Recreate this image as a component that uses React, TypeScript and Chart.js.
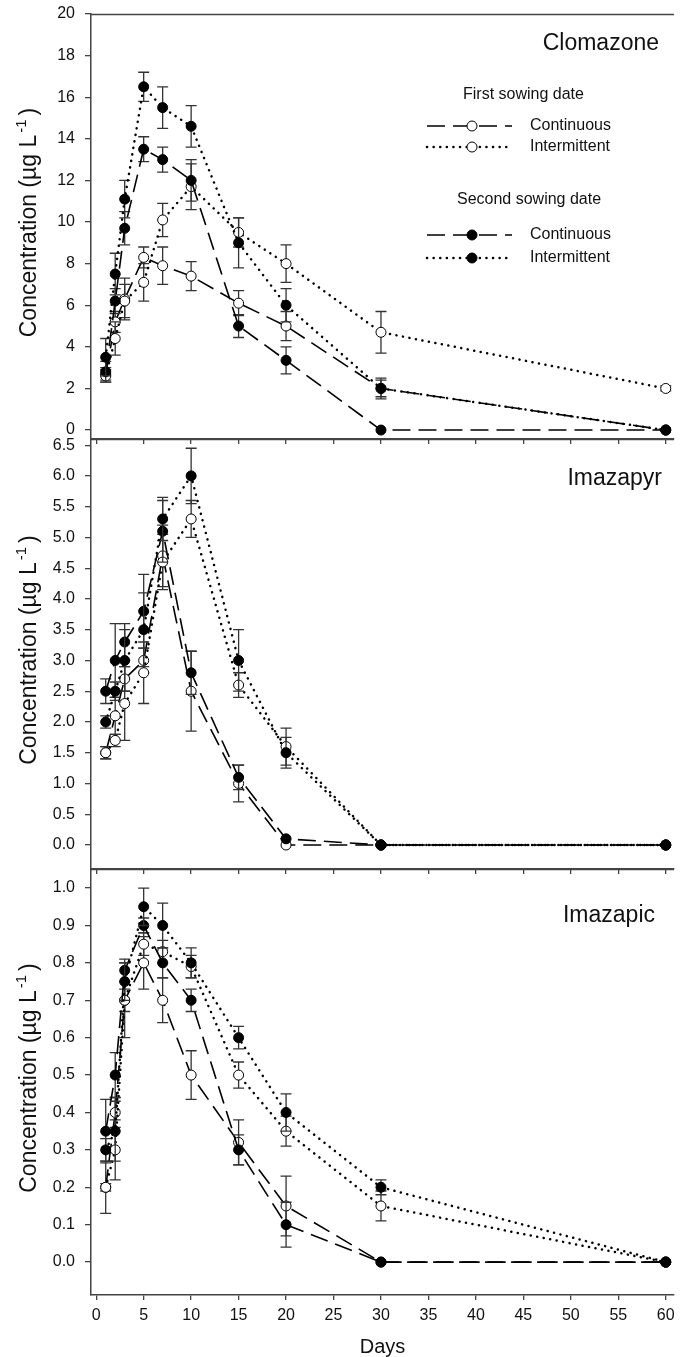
import React, { useEffect, useRef } from "react";
import { Chart, registerables } from "chart.js";

Chart.register(...registerables);

const FONT = "'Liberation Sans', Arial, Helvetica, sans-serif";

// ---------- data ----------
const days = [1, 2, 3, 5, 7, 10, 15, 20, 30, 60];
const xTicks = [0, 5, 10, 15, 20, 25, 30, 35, 40, 45, 50, 55, 60];

const seriesNames = ["Continuous", "Intermittent"];
const legendHeadings = ["First sowing date", "Second sowing date"];
const panelTitles = ["Clomazone", "Imazapyr", "Imazapic"];
const xTitle = "Days";

// Clomazone
const cloTicks = [0, 2, 4, 6, 8, 10, 12, 14, 16, 18, 20];
const cloFirstCont = [2.7, 5.2, 6.3, 8.3, 7.9, 7.4, 6.1, 5.0, 2.0, 0];
const cloFirstContErr = [0.3, 0.5, 1.0, 0.5, 0.9, 0.7, 0.6, 0.7, 0.4, 0];
const cloFirstInt = [2.6, 4.4, 6.2, 7.1, 10.1, 11.7, 9.5, 8.0, 4.7, 2.0];
const cloFirstIntErr = [0.3, 0.8, 0.8, 0.9, 0.8, 1.1, 0.7, 0.9, 1.0, 0.12];
const cloSecondCont = [2.8, 6.2, 9.7, 13.5, 13.0, 12.0, 5.0, 3.35, 0, 0];
const cloSecondContErr = [0.5, 0.6, 0.8, 0.6, 0.6, 1.0, 0.55, 0.65, 0, 0];
const cloSecondInt = [3.5, 7.5, 11.1, 16.5, 15.5, 14.6, 9.0, 6.0, 2.0, 0];
const cloSecondIntErr = [0.9, 1.0, 0.9, 0.7, 1.0, 1.0, 1.2, 0.8, 0.5, 0];

// Imazapyr
const pyrTicks = [0, 0.5, 1, 1.5, 2, 2.5, 3, 3.5, 4, 4.5, 5, 5.5, 6, 6.5];
const pyrFirstCont = [1.5, 2.1, 2.7, 3.0, 4.7, 2.5, 1.0, 0.0, 0, 0];
const pyrFirstContErr = [0.1, 0.3, 0.2, 0.2, 0.5, 0.65, 0.3, 0, 0, 0];
const pyrFirstInt = [1.5, 1.7, 2.3, 2.8, 4.6, 5.3, 2.6, 1.6, 0, 0];
const pyrFirstIntErr = [0.1, 0.1, 0.6, 0.5, 0.45, 0.3, 0.2, 0.3, 0, 0];
const pyrSecondCont = [2.5, 3.0, 3.3, 3.8, 5.1, 2.8, 1.1, 0.1, 0, 0];
const pyrSecondContErr = [0.2, 0.6, 0.3, 0.6, 0.5, 0.35, 0.2, 0, 0, 0];
const pyrSecondInt = [2.0, 2.5, 3.0, 3.5, 5.3, 6.0, 3.0, 1.5, 0, 0];
const pyrSecondIntErr = [0.1, 0.15, 0.5, 0.6, 0.35, 0.45, 0.5, 0.25, 0, 0];

// Imazapic
const picTicks = [0, 0.1, 0.2, 0.3, 0.4, 0.5, 0.6, 0.7, 0.8, 0.9, 1.0];
const picFirstCont = [0.2, 0.4, 0.7, 0.8, 0.7, 0.5, 0.32, 0.15, 0, 0];
const picFirstContErr = [0.07, 0.04, 0.1, 0.07, 0.06, 0.065, 0.06, 0.08, 0, 0];
const picFirstInt = [0.2, 0.3, 0.7, 0.85, 0.83, 0.79, 0.5, 0.35, 0.15, 0];
const picFirstIntErr = [0.01, 0.08, 0.03, 0.03, 0.03, 0.03, 0.035, 0.04, 0.04, 0];
const picSecondCont = [0.35, 0.5, 0.78, 0.9, 0.8, 0.7, 0.3, 0.1, 0, 0];
const picSecondContErr = [0.085, 0.06, 0.03, 0.02, 0.04, 0.03, 0.04, 0.06, 0, 0];
const picSecondInt = [0.3, 0.35, 0.75, 0.95, 0.9, 0.8, 0.6, 0.4, 0.2, 0];
const picSecondIntErr = [0.03, 0.08, 0.05, 0.05, 0.06, 0.04, 0.03, 0.05, 0.02, 0];

// ---------- styles ----------
const DASH = [18, 8];
const DOT = [0.1, 6.5];
const AXIS = "#444";
const TEXT = "#111";

function makeDataset(label: string, values: number[], errors: number[], filled: boolean, dashed: boolean, order: number) {
  return {
    label,
    data: days.map((d, i) => ({ x: d, y: values[i] })),
    errors,
    filled,
    borderColor: "#000",
    borderWidth: dashed ? 1.6 : 2.5,
    borderDash: dashed ? DASH : DOT,
    borderCapStyle: dashed ? "butt" : "round",
    pointRadius: 5,
    pointBorderWidth: 1,
    pointBackgroundColor: filled ? "#000" : "#fff",
    pointBorderColor: "#000",
    tension: 0,
    order,
    clip: false as any,
  };
}

const errorBarPlugin = {
  id: "errorBars",
  beforeDatasetDraw(chart: any, args: any) {
    const ds = chart.data.datasets[args.index];
    const ys = chart.scales.y;
    const ctx = chart.ctx;
    ctx.save();
    ctx.strokeStyle = "#333";
    ctx.lineWidth = 1.3;
    ctx.setLineDash([]);
    args.meta.data.forEach((pt: any, i: number) => {
      const e = ds.errors[i];
      if (!e) return;
      const v = ds.data[i].y;
      const x = pt.x;
      const y1 = ys.getPixelForValue(v + e);
      const y2 = ys.getPixelForValue(v - e);
      const w = 5.5;
      ctx.beginPath();
      ctx.moveTo(x, y1);
      ctx.lineTo(x, y2);
      ctx.moveTo(x - w, y1);
      ctx.lineTo(x + w, y1);
      ctx.moveTo(x - w, y2);
      ctx.lineTo(x + w, y2);
      ctx.stroke();
    });
    ctx.restore();
  },
};

const decorPlugin = {
  id: "decor",
  afterDraw(chart: any, _args: any, opts: any) {
    const { ctx, chartArea } = chart;
    ctx.save();
    // top frame line
    ctx.strokeStyle = AXIS;
    ctx.lineWidth = 1.5;
    ctx.setLineDash([]);
    ctx.beginPath();
    ctx.moveTo(chartArea.left, chartArea.top + 0.5);
    ctx.lineTo(chartArea.right, chartArea.top + 0.5);
    ctx.stroke();

    // panel title
    ctx.fillStyle = TEXT;
    ctx.font = `23px ${FONT}`;
    ctx.textAlign = "right";
    ctx.textBaseline = "middle";
    ctx.fillText(opts.title, opts.titleRight, chartArea.top + opts.titleDy);

    // y-axis title with superscript
    const cy = (chartArea.top + chartArea.bottom) / 2 - 4;
    ctx.translate(36, cy);
    ctx.rotate(-Math.PI / 2);
    ctx.textAlign = "left";
    ctx.textBaseline = "alphabetic";
    const main = "Concentration (µg L";
    const sup = "-1";
    const end = ")";
    const fs = 23;
    ctx.font = `${fs}px ${FONT}`;
    const w1 = ctx.measureText(main).width;
    const w3 = ctx.measureText(end).width;
    ctx.font = `${Math.round(fs * 0.65)}px ${FONT}`;
    const w2 = ctx.measureText(sup).width;
    const total = w1 + 2 + w2 + 4 + w3;
    let x = -total / 2;
    ctx.font = `${fs}px ${FONT}`;
    ctx.fillText(main, x, 0);
    x += w1 + 2;
    ctx.font = `${Math.round(fs * 0.65)}px ${FONT}`;
    ctx.fillText(sup, x, -fs * 0.42);
    x += w2 + 4;
    ctx.font = `${fs}px ${FONT}`;
    ctx.fillText(end, x, 0);
    ctx.restore();

    if (opts.legend) drawLegend(ctx);
  },
};

function drawLegend(ctx: CanvasRenderingContext2D) {
  const headingX = [463, 457];
  const headingY = [95, 200];
  const rowY = [
    [126, 147],
    [235, 258],
  ];
  ctx.save();
  ctx.fillStyle = TEXT;
  ctx.font = `16px ${FONT}`;
  ctx.textBaseline = "middle";
  ctx.textAlign = "left";
  for (let g = 0; g < 2; g++) {
    ctx.fillStyle = TEXT;
    ctx.fillText(legendHeadings[g], headingX[g], headingY[g]);
    for (let r = 0; r < 2; r++) {
      const y = rowY[g][r];
      const dashed = r === 0;
      ctx.strokeStyle = "#000";
      ctx.lineWidth = dashed ? 1.6 : 2.5;
      ctx.lineCap = dashed ? "butt" : "round";
      ctx.setLineDash(dashed ? DASH : DOT);
      ctx.beginPath();
      ctx.moveTo(427, y);
      ctx.lineTo(512, y);
      ctx.stroke();
      ctx.setLineDash([]);
      ctx.lineCap = "butt";
      ctx.beginPath();
      ctx.arc(472, y, 5, 0, Math.PI * 2);
      ctx.fillStyle = g === 1 ? "#000" : "#fff";
      ctx.fill();
      ctx.lineWidth = 1;
      ctx.stroke();
      ctx.fillStyle = TEXT;
      ctx.fillText(seriesNames[r], 530, y);
    }
  }
  ctx.restore();
}

type PanelProps = {
  top: number;
  height: number;
  xAxisHeight: number;
  showX: boolean;
  yMin: number;
  yMax: number;
  yTicks: number[];
  decimals: number;
  title: string;
  titleRight: number;
  titleDy: number;
  legend: boolean;
  series: number[][];
};

function Panel(p: PanelProps) {
  const ref = useRef<HTMLCanvasElement | null>(null);
  useEffect(() => {
    if (!ref.current) return;
    const [fc, fcE, fi, fiE, sc, scE, si, siE] = p.series;
    const datasets = [
      makeDataset(legendHeadings[0] + " " + seriesNames[0], fc, fcE, false, true, 4),
      makeDataset(legendHeadings[0] + " " + seriesNames[1], fi, fiE, false, false, 3),
      makeDataset(legendHeadings[1] + " " + seriesNames[0], sc, scE, true, true, 2),
      makeDataset(legendHeadings[1] + " " + seriesNames[1], si, siE, true, false, 1),
    ];
    const chart = new Chart(ref.current, {
      type: "line",
      data: { datasets: datasets as any },
      options: {
        responsive: false,
        animation: false,
        events: [],
        layout: { padding: { top: 14, left: 0, right: 0, bottom: 0 } },
        plugins: {
          legend: { display: false },
          tooltip: { enabled: false },
          decor: { title: p.title, titleRight: p.titleRight, titleDy: p.titleDy, legend: p.legend },
        } as any,
        scales: {
          x: {
            type: "linear",
            min: -0.55,
            max: 60.87,
            afterBuildTicks: (s: any) => {
              s.ticks = xTicks.map((v) => ({ value: v }));
            },
            afterFit: (s: any) => {
              s.height = p.xAxisHeight;
              s.paddingLeft = 0;
              s.paddingRight = 0;
            },
            grid: { drawOnChartArea: false, drawTicks: true, tickLength: 5, color: AXIS, lineWidth: 1.3 },
            border: { display: true, color: AXIS, width: 1.5 },
            ticks: {
              display: p.showX,
              autoSkip: false,
              maxRotation: 0,
              padding: 6,
              color: TEXT,
              font: { family: FONT, size: 16 },
              callback: (v: any) => String(v),
            },
            title: {
              display: p.showX,
              text: xTitle,
              color: TEXT,
              font: { family: FONT, size: 20, lineHeight: 1 },
              padding: { top: 0, bottom: 0 },
            },
          },
          y: {
            type: "linear",
            min: p.yMin,
            max: p.yMax,
            afterBuildTicks: (s: any) => {
              s.ticks = p.yTicks.map((v) => ({ value: v }));
            },
            afterFit: (s: any) => {
              s.width = 91;
              s.paddingTop = 0;
              s.paddingBottom = 0;
            },
            grid: { drawOnChartArea: false, drawTicks: true, tickLength: 6, color: AXIS, lineWidth: 1.3 },
            border: { display: true, color: AXIS, width: 1.5 },
            ticks: {
              autoSkip: false,
              padding: 10,
              color: TEXT,
              font: { family: FONT, size: 16 },
              callback: (v: any) => Number(v).toFixed(p.decimals),
            },
          },
        },
      } as any,
      plugins: [errorBarPlugin, decorPlugin],
    });
    return () => chart.destroy();
  }, []);
  return (
    <canvas
      ref={ref}
      width={680}
      height={p.height}
      style={{ position: "absolute", left: 0, top: p.top, width: 680, height: p.height }}
    />
  );
}

export default function App() {
  return (
    <div
      style={{
        position: "absolute",
        left: 0,
        top: 0,
        width: 680,
        height: 1357,
        background: "#fff",
        overflow: "hidden",
      }}
    >
      <Panel
        top={0}
        height={445}
        xAxisHeight={6}
        showX={false}
        yMin={-0.43}
        yMax={20}
        yTicks={cloTicks}
        decimals={0}
        title={panelTitles[0]}
        titleRight={659}
        titleDy={30}
        legend={true}
        series={[cloFirstCont, cloFirstContErr, cloFirstInt, cloFirstIntErr, cloSecondCont, cloSecondContErr, cloSecondInt, cloSecondIntErr]}
      />
      <Panel
        top={425}
        height={450}
        xAxisHeight={6}
        showX={false}
        yMin={-0.39}
        yMax={6.6}
        yTicks={pyrTicks}
        decimals={1}
        title={panelTitles[1]}
        titleRight={662}
        titleDy={40}
        legend={false}
        series={[pyrFirstCont, pyrFirstContErr, pyrFirstInt, pyrFirstIntErr, pyrSecondCont, pyrSecondContErr, pyrSecondInt, pyrSecondIntErr]}
      />
      <Panel
        top={855}
        height={502}
        xAxisHeight={62}
        showX={true}
        yMin={-0.088}
        yMax={1.051}
        yTicks={picTicks}
        decimals={1}
        title={panelTitles[2]}
        titleRight={655}
        titleDy={47}
        legend={false}
        series={[picFirstCont, picFirstContErr, picFirstInt, picFirstIntErr, picSecondCont, picSecondContErr, picSecondInt, picSecondIntErr]}
      />
    </div>
  );
}
